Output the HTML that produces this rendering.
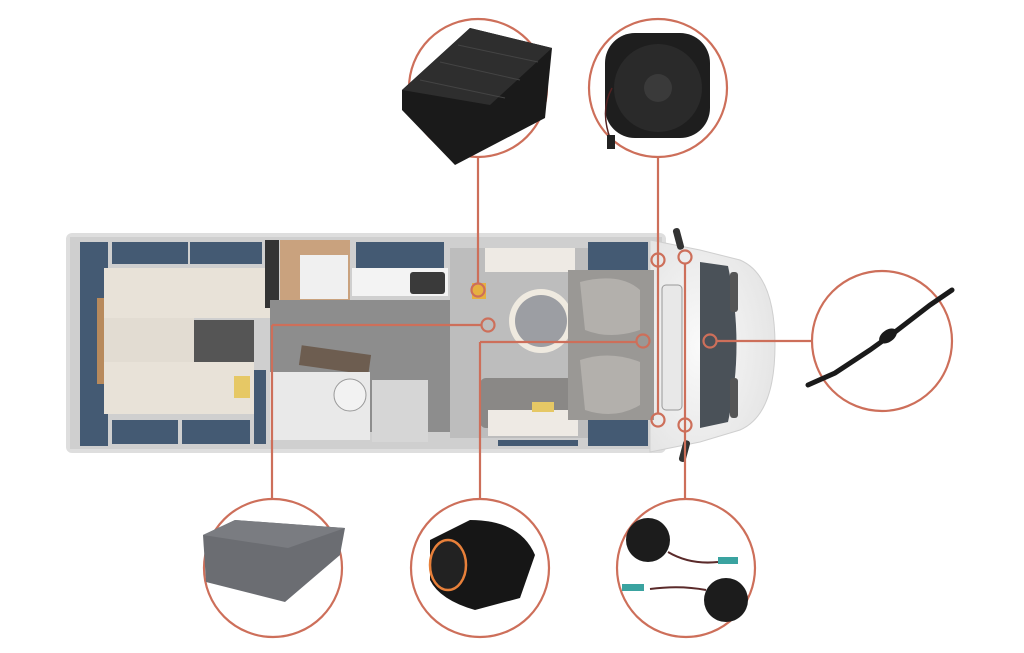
<!DOCTYPE html>
<html><head><meta charset="utf-8"><style>
html,body{margin:0;padding:0;background:#fff;}
svg{display:block}
</style></head><body>
<svg width="1024" height="653" viewBox="0 0 1024 653" xmlns="http://www.w3.org/2000/svg">
<defs>
<radialGradient id="cabg" cx="0.4" cy="0.5" r="0.7"><stop offset="0" stop-color="#fafafa"/><stop offset="1" stop-color="#e2e2e2"/></radialGradient>
</defs>
<!-- camper body -->
<rect x="66" y="233" width="600" height="220" rx="6" fill="#dedede"/>
<rect x="70" y="237" width="592" height="212" fill="#cfcfcf"/>
<!-- cab -->
<path d="M650 240 L700 250 L740 260 Q775 275 775 345 Q775 415 740 430 L700 442 L650 452 Z" fill="url(#cabg)" stroke="#cfcfcf"/>
<path d="M700 262 L728 266 Q745 345 728 422 L700 428 Z" fill="#4a5158"/>
<rect x="730" y="272" width="8" height="40" rx="3" fill="#555"/>
<rect x="730" y="378" width="8" height="40" rx="3" fill="#555"/>
<rect x="662" y="285" width="20" height="125" rx="4" fill="#e8e8e8" stroke="#999"/>
<!-- mirrors -->
<rect x="675" y="228" width="7" height="22" rx="3" fill="#333" transform="rotate(-15 678 239)"/>
<rect x="681" y="440" width="7" height="22" rx="3" fill="#333" transform="rotate(15 684 451)"/>
<!-- blue cabinets -->
<g fill="#445a73">
<rect x="80" y="242" width="28" height="68"/><rect x="80" y="302" width="20" height="82"/><rect x="80" y="384" width="28" height="62"/>
<rect x="112" y="242" width="76" height="22"/><rect x="190" y="242" width="72" height="22"/>
<rect x="112" y="420" width="66" height="24"/><rect x="182" y="420" width="68" height="24"/>
<rect x="254" y="370" width="12" height="74"/>
<rect x="356" y="242" width="88" height="26"/>
<rect x="588" y="242" width="60" height="28"/><rect x="588" y="418" width="60" height="28"/>
<rect x="498" y="440" width="80" height="6"/>
</g>
<!-- beds -->
<rect x="104" y="268" width="166" height="50" fill="#e8e2d8"/>
<rect x="104" y="318" width="90" height="44" fill="#e2dcd2"/>
<rect x="104" y="362" width="150" height="52" fill="#e8e2d8"/>
<rect x="97" y="298" width="7" height="86" fill="#b88a5c"/>
<rect x="194" y="320" width="60" height="42" fill="#555"/>
<rect x="234" y="376" width="16" height="22" fill="#e6c865"/>
<!-- wardrobe/bath top -->
<rect x="265" y="240" width="14" height="68" fill="#333"/>
<rect x="280" y="240" width="70" height="60" fill="#c9a27e"/>
<rect x="300" y="255" width="48" height="44" fill="#f0f0f0"/>
<rect x="352" y="268" width="96" height="28" fill="#f3f3f3"/>
<rect x="410" y="272" width="35" height="22" rx="3" fill="#3a3a3a"/>
<!-- aisle floor -->
<rect x="270" y="300" width="310" height="132" fill="#8d8d8d"/>
<rect x="300" y="350" width="70" height="20" fill="#6d5d50" transform="rotate(8 335 360)"/>
<rect x="270" y="372" width="100" height="68" fill="#e9e9e9"/>
<circle cx="350" cy="395" r="16" fill="#f2f2f2" stroke="#999"/>
<rect x="372" y="380" width="56" height="62" fill="#d6d6d6"/>
<!-- dinette -->
<rect x="450" y="248" width="138" height="190" fill="#bdbdbd"/>
<rect x="485" y="248" width="90" height="24" fill="#eeeae4"/>
<rect x="480" y="378" width="98" height="50" rx="6" fill="#8a8886"/>
<rect x="488" y="410" width="90" height="26" fill="#eeeae4"/>
<rect x="532" y="402" width="22" height="10" fill="#e6c865"/>
<circle cx="541" cy="321" r="32" fill="#efeae0"/>
<circle cx="541" cy="321" r="26" fill="#9c9ea3"/>
<!-- cab seats -->
<rect x="568" y="270" width="86" height="150" fill="#9a9895"/>
<path d="M580 282 Q620 272 640 290 L640 330 Q610 340 585 330 Z" fill="#b3b0ac"/>
<path d="M580 360 Q610 350 640 362 L640 405 Q615 420 585 410 Z" fill="#b3b0ac"/>
<rect x="472" y="283" width="14" height="16" fill="#e6b040"/>
<!-- connectors -->
<g stroke="#cd6f5a" stroke-width="2.2" fill="none">
<line x1="478" y1="157" x2="478" y2="283"/>
<line x1="658" y1="157" x2="658" y2="414"/>
<line x1="685" y1="263" x2="685" y2="499"/>
<line x1="272" y1="325" x2="482" y2="325"/>
<line x1="272" y1="325" x2="272" y2="499"/>
<line x1="480" y1="342" x2="637" y2="342"/>
<line x1="480" y1="342" x2="480" y2="499"/>
<line x1="716" y1="341" x2="812" y2="341"/>
<circle cx="478" cy="290" r="6.5"/>
<circle cx="488" cy="325" r="6.5"/>
<circle cx="643" cy="341" r="6.5"/>
<circle cx="658" cy="260" r="6.5"/>
<circle cx="685" cy="257" r="6.5"/>
<circle cx="710" cy="341" r="6.5"/>
<circle cx="658" cy="420" r="6.5"/>
<circle cx="685" cy="425" r="6.5"/>
<circle cx="478" cy="88" r="69"/>
<circle cx="658" cy="88" r="69"/>
<circle cx="882" cy="341" r="70"/>
<circle cx="273" cy="568" r="69"/>
<circle cx="480" cy="568" r="69"/>
<circle cx="686" cy="568" r="69"/>
</g>
<!-- amplifier -->
<path d="M402 90 L470 28 L552 48 L545 118 L455 165 L402 110 Z" fill="#1a1a1a"/>
<path d="M402 90 L470 28 L552 48 L490 105 Z" fill="#2e2e2e"/>
<g stroke="#444" stroke-width="1">
<line x1="420" y1="80" x2="505" y2="98"/><line x1="440" y1="62" x2="520" y2="80"/><line x1="458" y1="45" x2="538" y2="62"/>
</g>
<!-- speaker -->
<rect x="605" y="33" width="105" height="105" rx="30" fill="#1e1e1e"/>
<circle cx="658" cy="88" r="44" fill="#2a2a2a"/>
<circle cx="658" cy="88" r="14" fill="#3a3a3a"/>
<path d="M612 88 Q600 110 610 138" stroke="#552222" stroke-width="1.5" fill="none"/>
<rect x="607" y="135" width="8" height="14" fill="#222"/>
<!-- box -->
<path d="M203 535 L235 520 L345 528 L340 555 L285 602 L206 582 Z" fill="#6b6d72"/>
<path d="M203 535 L235 520 L345 528 L288 548 Z" fill="#7a7c81"/>
<!-- tweeter knob -->
<path d="M430 540 L470 520 Q520 520 535 555 L520 598 L475 610 Q440 600 430 580 Z" fill="#161616"/>
<ellipse cx="448" cy="565" rx="18" ry="25" fill="#222" stroke="#e8803a" stroke-width="2.5"/>
<!-- tweeters -->
<circle cx="648" cy="540" r="22" fill="#1c1c1c"/>
<circle cx="726" cy="600" r="22" fill="#1c1c1c"/>
<path d="M668 552 Q690 565 718 562" stroke="#5a2a2a" stroke-width="2" fill="none"/>
<path d="M650 589 Q680 585 706 590" stroke="#5a2a2a" stroke-width="2" fill="none"/>
<rect x="718" y="557" width="20" height="7" fill="#3aa3a0"/>
<rect x="622" y="584" width="22" height="7" fill="#3aa3a0"/>
<!-- cable -->
<path d="M808 385 L835 373 L870 350 L895 332 L930 305 L952 290" stroke="#1a1a1a" stroke-width="5" fill="none" stroke-linecap="round"/>
<ellipse cx="888" cy="336" rx="10" ry="6" fill="#1a1a1a" transform="rotate(-35 888 336)"/>
</svg>
</body></html>
